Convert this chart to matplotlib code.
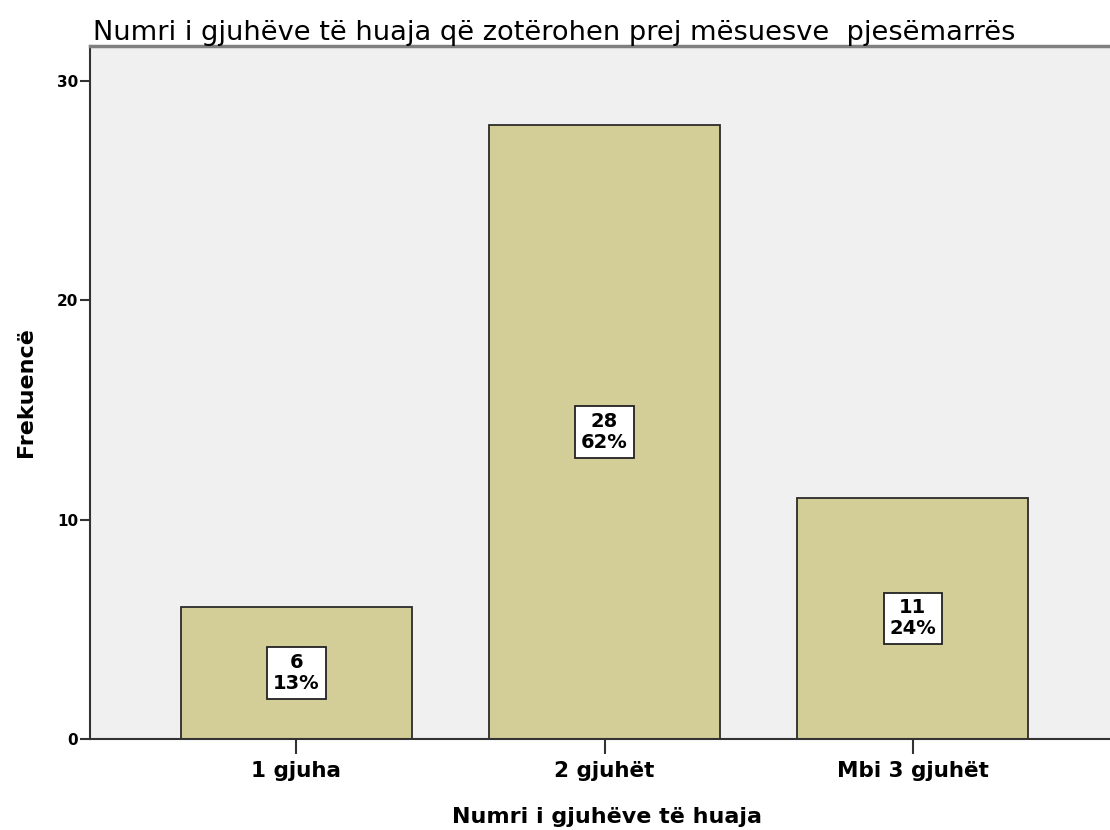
import matplotlib
matplotlib.use("Agg")
import matplotlib.pyplot as plt

# Data
categories = ["1 gjuha", "2 gjuhët", "Mbi 3 gjuhët"]
counts = [6, 28, 11]
percents = ["13%", "62%", "24%"]
yticks = [0, 10, 20, 30]

plt.rcParams['font.family'] = ['DejaVu Sans']

fig = plt.figure(figsize=(11.1, 8.3), dpi=100)
ax = fig.add_axes([90 / 1110, 1 - 739 / 830, 1020 / 1110, 693 / 830])
ax.set_facecolor('#F0F0F0')

x = list(range(len(categories)))
ax.bar(x, counts, width=0.75, color='#D3CE97', edgecolor='#2b2b2b', linewidth=1.3, zorder=2)

# count / percent boxes in the middle of each bar
for xi, c, p in zip(x, counts, percents):
    ax.text(xi, c / 2, f"{c}\n{p}", ha='center', va='center', fontsize=14, fontweight='bold',
            linespacing=1.12,
            bbox=dict(boxstyle='square,pad=0.3', facecolor='white', edgecolor='#222222', linewidth=1.3),
            zorder=3)

ax.set_xlim(-0.67, 2.64)
ax.set_ylim(0, 31.6)
ax.set_xticks(x)
ax.set_xticklabels(categories, fontsize=15.5, fontweight='bold')
ax.set_yticks(yticks)
ax.set_yticklabels([str(t) for t in yticks], fontsize=11, fontweight='bold')
ax.tick_params(axis='x', direction='out', length=11, width=1.5, color='#333333', pad=5)
ax.tick_params(axis='y', direction='out', length=7.5, width=1.5, color='#333333', pad=1)

ax.spines['right'].set_visible(False)
ax.spines['left'].set_linewidth(1.5)
ax.spines['left'].set_color('#333333')
ax.spines['bottom'].set_linewidth(1.5)
ax.spines['bottom'].set_color('#333333')
ax.spines['top'].set_linewidth(2.5)
ax.spines['top'].set_color('#808080')

ax.set_xlabel("Numri i gjuhëve të huaja", fontsize=16, fontweight='bold')
ax.xaxis.set_label_coords(0.507, -0.098)
ax.set_ylabel("Frekuencë", fontsize=16, fontweight='bold')
ax.yaxis.set_label_coords(-0.053, 0.5)
fig.text(93 / 1110, 1 - 33 / 830, "Numri i gjuhëve të huaja që zotërohen prej mësuesve  pjesëmarrës",
         fontsize=19.6, ha='left', va='center')

fig.savefig("out.png", dpi=100)
